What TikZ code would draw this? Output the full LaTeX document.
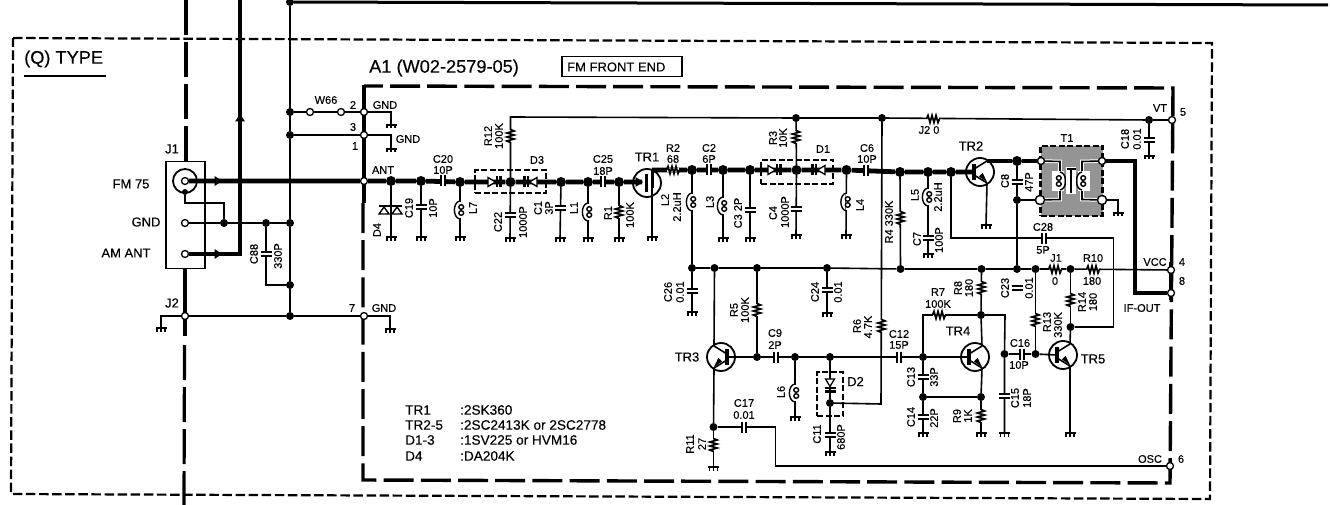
\documentclass[tikz,border=0pt]{standalone}
\usepackage{fontspec}
\setmainfont{Liberation Sans}[FakeBold=0.25]
\newcounter{lblc}
\tikzset{x=1pt,y=-1pt,
  w/.style={line width=1.6pt},
  wm/.style={line width=2.6pt},
  wt/.style={line width=4.8pt},
  jd/.style={circle,fill=black,inner sep=0pt,minimum size=8pt},
  jD/.style={circle,fill=black,inner sep=0pt,minimum size=10pt},
  jo/.style={circle,draw=black,fill=white,line width=1.3pt,inner sep=0pt,minimum size=7pt},
  dbox/.style={draw=black,line width=2pt,dash pattern=on 6pt off 2.5pt,inner sep=0pt},
  lab/.style={font=\fontsize{11}{12}\selectfont,inner sep=0pt},
  labm/.style={font=\fontsize{13}{14}\selectfont,inner sep=0pt},
  labl/.style={font=\fontsize{13.6}{15}\selectfont,inner sep=0pt,anchor=west},
  labb/.style={font=\fontsize{18.2}{20}\selectfont,inner sep=0pt,anchor=west},
  rlab/.style={lab,rotate=90},
  plt/.style={line width=2.2pt},
}
% named text helpers
\newcommand\T[4][lab]{\stepcounter{lblc}\node[#1] (t\arabic{lblc}) at (#2,#3) {#4};}
\newcommand\Tr[3]{\stepcounter{lblc}\node[rlab] (t\arabic{lblc}) at (#1,#2) {#3};}
% junction helpers
\newcommand\Jd[3]{\node[jd] (#1) at (#2,#3) {};}
\newcommand\JD[3]{\node[jD] (#1) at (#2,#3) {};}
\newcommand\Jo[3]{\node[jo] (#1) at (#2,#3) {};}
% components: name,x,y,rotation
\newcommand\Res[4]{\begin{scope}[shift={(#2,#3)},rotate=#4]
  \coordinate (#1) at (0,0);
  \fill[white] (-6,-2.4) rectangle (6,2.4);
  \draw[line width=1.7pt,line join=miter] (-6.5,0)--(-5,-3.6)--(-3,3.6)--(-1,-3.6)--(1,3.6)--(3,-3.6)--(5,3.6)--(6.5,0);
  \end{scope}}
\newcommand\Cp[4]{\begin{scope}[shift={(#2,#3)},rotate=#4]
  \coordinate (#1) at (0,0);
  \fill[white] (-1.8,-3) rectangle (1.8,3);
  \draw[plt] (-2,-5.5)--(-2,5.5) (2,-5.5)--(2,5.5);
  \end{scope}}
\newcommand\Ind[4]{\begin{scope}[shift={(#2,#3)},rotate=#4]
  \coordinate (#1) at (0,0);
  \fill[white] (-1,-8) rectangle (1,8);
  \draw[line width=1.4pt] (0,-9) .. controls (-7.5,-8) and (-7.5,8) .. (0,9);
  \draw[line width=1.4pt] (1.2,-3) ellipse (2.4 and 2.3) (1.2,3) ellipse (2.4 and 2.3);
  \end{scope}}
\newcommand\Dio[4]{\begin{scope}[shift={(#2,#3)},rotate=#4]
  \coordinate (#1) at (0,0);
  \draw[line width=1.3pt,fill=white,line join=miter] (-9,-4.5)--(-1.5,0)--(-9,4.5)--cycle;
  \draw[line width=2.4pt] (0,-5.5)--(0,5.5) (3.5,-5.5)--(3.5,5.5);
  \end{scope}}
\newcommand\Gnd[3]{\coordinate (#1) at (#2,#3);
  \begin{scope}[shift={(#2,#3)}]
  \draw[line width=1.6pt] (-5.5,0)--(5.5,0);
  \draw[line width=1.3pt] (-4,0)--(-4,3.5) (0,0)--(0,3.5) (4,0)--(4,3.5);
  \end{scope}}
% NPN: name,cx,cy,xscale
\newcommand\Npn[4]{\begin{scope}[shift={(#2,#3)},xscale=#4]
  \coordinate (#1-c) at (7,-11);
  \coordinate (#1-e) at (7,11);
  \coordinate (#1-b) at (-6,0);
  \draw[line width=1.8pt] (0,0) circle (14);
  \draw[line width=3.2pt] (-6,-8)--(-6,8);
  \draw[line width=1.6pt] (-6,-3)--(7,-11) (-6,3)--(7,11);
  \fill (7,10)--(-1,4.5)--(2.6,0.8)--cycle;
  \end{scope}}
\newcommand\Ar[4]{\begin{scope}[shift={(#2,#3)},rotate=#4]
  \coordinate (#1) at (0,0);
  \fill (-3.5,-5)--(4,0)--(-3.5,5)--cycle;
  \end{scope}}
\begin{document}
\begin{tikzpicture}
\useasboundingbox (0,0) rectangle (1330,505);

% ---------- frames
\draw[line width=2.2pt,dash pattern=on 9.5pt off 3.6pt] (13,38)--(1212,43)--(1210,499)--(11,494)--cycle;
\draw[line width=3.4pt,dash pattern=on 30pt off 7.2pt] (363,203)--(363,480)--(1170,483)--(1173,88)--(364,86);
\draw[line width=3.4pt] (364,85)--(364,203);
\draw[line width=3.4pt] (1171,262)--(1171,300);
\draw[line width=3.2pt,dash pattern=on 35pt off 7pt] (186,0)--(186,161);
\draw[line width=3.2pt,dash pattern=on 35pt off 7pt] (184.5,345)--(184,505);
\draw[line width=3.2pt] (185,269)--(185,336);
\draw[line width=1.1pt] (24,76)--(106,76);

% ---------- junctions
\Jd{top}{290}{2} \coordinate (topr) at (1328,5);
\Jd{w1}{290}{112} \Jd{w2}{290}{135} \Jd{g1}{290}{223} \Jd{g2}{224}{223} \Jd{g3}{266}{223}
\Jd{g4}{290}{285} \Jd{g5}{290}{316}
\Jo{w66a}{310}{112} \Jo{w66b}{341}{112} \Jo{p2}{364}{112} \Jo{p3}{364}{135} \Jo{pa}{364}{181}
\Jo{p7}{364}{316} \Jo{j2o}{185}{316} \Jo{agnd}{185}{223} \Jo{am}{185}{254}
\node[jd,minimum size=6pt] (fmb) at (185,192) {};
\Jo{fm}{185}{181}
\JD{n391}{391}{181} \JD{n421}{421}{181} \JD{n461}{460}{182} \JD{n510}{510.5}{182}
\JD{n561}{561}{182} \JD{n588}{588}{182} \JD{n619}{619}{182}
\JD{n692}{692}{170} \JD{n723}{723}{170} \JD{n750}{750}{170} \JD{n796}{796.5}{170} \JD{n846}{846.5}{170}
\JD{n900}{900}{172} \JD{n928}{928}{172} \JD{n951}{951}{172}
\JD{n1017}{1017}{161} \Jd{n1017b}{1017}{200}
\Jd{n796t}{796}{118} \Jd{n882}{882}{118} \Jd{n1149}{1149}{120} \Jo{pvt}{1172}{120}
\Jo{t1a}{1041}{161} \Jo{t1b}{1102}{161} \node[jo,minimum size=9pt] (t1c) at (1040,200) {}; \node[jo,minimum size=9pt] (t1d) at (1102,200) {};
\Jd{r692}{692}{268} \Jd{r714}{714.5}{268} \Jd{r757}{757}{268} \Jd{r827}{827}{268} \Jd{r900}{900.5}{269}
\Jd{r981}{981.5}{269} \Jd{r1017}{1017}{269} \Jd{r1036}{1035.5}{269} \Jd{r1071}{1070.5}{269}
\Jo{pvcc}{1171}{270} \Jo{pif}{1171}{293}
\Jd{n757}{757}{357} \Jd{n795}{795}{357} \Jd{n830}{830}{357} \Jd{n923}{923}{357} \Jd{n830b}{830}{403}
\Jd{n923c}{923}{397} \Jd{n981c}{981}{397} \Jd{n981b}{981}{315} \Jd{n1004}{1004.5}{354} \Jd{n1036}{1035.5}{354}
\Jd{n1071b}{1070.5}{327} \Jd{n713}{713.5}{427} \Jo{posc}{1170}{466}
\coordinate (c510) at (510.5,117);
\coordinate (r6b) at (881,404);
\coordinate (c28r) at (1113.5,238);
\coordinate (c28b) at (1113.5,327);
\coordinate (oscb) at (775.5,466);
\coordinate (osct) at (775.5,427);
\coordinate (fma) at (185,203);
\coordinate (fmc) at (224,203);
\coordinate (cc) at (266,285);
\coordinate (fetd) at (652,170);
\coordinate (fetg) at (642,182);
\coordinate (ifc) at (1135,161);
\coordinate (ifd) at (1135,293);
\coordinate (amc) at (240,254);
\coordinate (amt) at (240,0);
\coordinate (t1g) at (1118,200);
\coordinate (c98) at (1005,315);

% ---------- grounds
\Gnd{gp2}{391}{125} \Gnd{gp3}{391}{149} \Gnd{gj2}{161}{328} \Gnd{gp7}{390}{329}
\Gnd{gd4}{391}{237} \Gnd{gc19}{421}{237} \Gnd{gl7}{460}{237} \Gnd{gc22}{510}{238}
\Gnd{gc1}{560}{238} \Gnd{gl1}{588}{238} \Gnd{gr1}{619}{238} \Gnd{gtr1}{652}{237}
\Gnd{gl3}{723}{238} \Gnd{gc3}{750}{238} \Gnd{gc4}{796}{235} \Gnd{gl4}{846}{235}
\Gnd{gc7}{928}{254} \Gnd{gtr2}{986}{225} \Gnd{gt1}{1118}{213} \Gnd{gc18}{1149}{156}
\Gnd{gc26}{692}{312} \Gnd{gc24}{827}{313} \Gnd{gl6}{795}{417} \Gnd{gc11}{830}{452}
\Gnd{gr11}{713.5}{467} \Gnd{gc14}{923}{433} \Gnd{gr9}{981}{433} \Gnd{gc15}{1004.5}{433} \Gnd{gtr5}{1070}{433}

% ---------- J1 box
\node[draw=black,line width=1.8pt,minimum width=39pt,minimum height=107pt,inner sep=0pt] (j1box) at (185.5,215) {};
\draw[line width=1.8pt] (fm) circle (12);

% ---------- wires: left side
\draw[line width=3pt] (top)--(topr);
\draw[wm] (top)--(w1)--(w2)--(g1)--(g4)--(g5);
\draw[w] (w1)--(w66a)--(w66b)--(p2);
\draw[w] (p2)-|(gp2);
\draw[w] (w2)--(p3);
\draw[w] (p3)-|(gp3);
\draw[w] (j2o)--(g5)--(p7);
\draw[w] (j2o)-|(gj2);
\draw[w] (p7)-|(gp7);
\draw[wm] (fmb)--(fma)--(fmc)--(g2);
\draw[wm] (agnd)--(g2)--(g3)--(g1);
\draw[w] (g3)--(cc)--(g4);
\draw[line width=4.8pt] (am)--(amc)--(amt);
\draw[wt] (fm)--(pa)--(n391)--(n421)--(n461)--(n510)--(n561)--(n588)--(n619)--(fetg);
\draw[wt] (fetd)--(n692)--(n723)--(n750)--(n796)--(n846)--(n900)--(n928)--(n951)--(973,172);

% ---------- wires: front end
\draw[w] (n391)--(gd4);
\draw[w] (n421)--(gc19);
\draw[w] (n461)--(gl7);
\draw[w] (n510)--(gc22);
\draw[w] (n510)--(c510)--(n796t)--(n882)--(n1149)--(pvt);
\draw[w] (n561)--(gc1);
\draw[w] (n588)--(gl1);
\draw[w] (n619)--(gr1);
\draw[w] (fetd)--(gtr1);
\draw[w] (n692)--(r692)--(gc26);
\draw[w] (n723)--(gl3);
\draw[w] (n750)--(gc3);
\draw[w] (n796t)--(n796)--(gc4);
\draw[w] (n846)--(gl4);
\draw[w] (n900)--(r900);
\draw[w] (n928)--(gc7);
\draw[w] (n951)|-(c28r)--(c28b)--(n1071b);
\draw[w] (n882)--(r6b)--(n830b);
\draw[w] (n1149)--(gc18);

% ---------- VCC rail and below
\draw[w] (r692)--(r714)--(r757)--(r827)--(r900)--(r981)--(r1017)--(r1036)--(r1071)--(pvcc);
\draw[w] (r827)--(gc24);
\draw[w] (r757)--(n757);
\draw[w] (n757)--(n795)--(n830)--(n923);
\draw[w] (n795)--(gl6);
\draw[w] (n830)--(n830b)--(gc11);
\draw[w] (n923)--(n923c)--(gc14);
\draw[w] (n923c)--(n981c)--(gr9);
\draw[w] (n923)|-(n981b);
\draw[w] (n981b)--(c98)--(n1004)--(gc15);
\draw[w] (r981)--(n981b);
\draw[w] (r1017)--(n1017b);
\draw[w] (n1017b)--(n1017);
\draw[w] (n1017b)--(t1c);
\draw[w] (n1004)--(n1036);
\draw[w] (r1036)--(n1036);
\draw[w] (r1071)--(n1071b);
\draw[w] (n713)--(gr11);
\draw[w] (n713)--(osct)--(oscb)--(posc);
\draw[line width=1.6pt] (t1d)-|(t1g)--(gt1);

% ---------- T1
\node[draw=none,fill=black!42,minimum width=62pt,minimum height=70pt,inner sep=0pt] (t1box) at (1071.5,181) {};
\node[dbox,line width=2.4pt,minimum width=62pt,minimum height=70pt] (t1line) at (1071.5,181) {};
\draw[white,line width=3.6pt] (t1a)--(1060,161.5)--(1060,172) (1060,190)--(1060,199.5)--(t1c) (t1b)--(1082,161.5)--(1082,172) (1082,190)--(1082,199.5)--(t1d);
\draw[w] (t1a)--(1060,161.5)--(1060,172) (1060,190)--(1060,199.5)--(t1c);
\draw[w] (t1b)--(1082,161.5)--(1082,172) (1082,190)--(1082,199.5)--(t1d);
\fill[white] (1052,171) rectangle (1064,191);
\fill[white] (1078,171) rectangle (1090,191);
\Ind{t1p}{1060}{181}{180}
\Ind{t1s}{1082}{181}{0}
\fill[white] (1066,167) rectangle (1076,194);
\draw[line width=2pt] (1066.5,169)--(1075.5,169) (1071,169)--(1071,193);
\node[jo] (t1aa) at (1041,161) {}; \node[jo] (t1bb) at (1102,161) {};
\node[jo,minimum size=9pt] (t1cc) at (1040,200) {}; \node[jo,minimum size=9pt] (t1dd) at (1102,200) {};
\draw[wt] (n951)--(973,172);
\draw[line width=4.5pt] (t1b)--(ifc)--(ifd)--(pif);
\Npn{tr2}{980}{172}{1}
\Npn{tr3}{721}{357}{-1}
\Npn{tr4}{975}{357}{1}
\Npn{tr5}{1063}{355}{1}
\draw[wt] (tr2-c)--(n1017)--(t1a);
\draw[w] (tr2-e)--(gtr2);
\draw[w] (tr3-c)--(r714);
\draw[w] (tr3-e)--(n713);
\draw[w] (tr3-b)--(n757);
\draw[w] (tr4-b)--(n923);
\draw[w] (tr4-c)--(n981b);
\draw[w] (tr4-e)--(n981c);
\draw[w] (tr5-b)--(n1036);
\draw[w] (tr5-c)--(n1071b);
\draw[w] (tr5-e)--(gtr5);

% TR1 (FET)
\draw[line width=1.8pt] (647,183) circle (14);
\draw[line width=3pt] (646.5,174)--(646.5,192);
\draw[line width=3pt] (652,171)--(652,188);
\Ar{tr1a}{639}{182}{0}

% ---------- arrows on the left
\Ar{a1}{218}{181}{0}
\Ar{a2}{218}{254}{0}
\Ar{a3}{240}{118}{90}

% ---------- capacitors
\Cp{c88}{266}{254}{90}
\Cp{c19}{421}{207}{90}
\Cp{c20}{443}{181}{0}
\Cp{c22}{510.5}{215}{90}
\Cp{c1}{560}{208}{90}
\Cp{c25}{603}{182}{0}
\Cp{c2}{709}{170}{0}
\Cp{c3}{750}{210}{90}
\Cp{c4}{796}{209}{90}
\Cp{c6}{866}{171}{0}
\Cp{c7}{928}{238}{90}
\Cp{c8}{1017}{182}{90}
\Cp{c28}{1044}{238}{0}
\Cp{c18}{1149}{140}{90}
\Cp{c26}{692}{291}{90}
\Cp{c24}{827}{290}{90}
\Cp{c9}{776}{357}{0}
\Cp{c12}{899}{357}{0}
\Cp{c13}{923}{377}{90}
\Cp{c14}{923}{417}{90}
\Cp{c15}{1004.5}{396}{90}
\Cp{c16}{1022}{354}{0}
\Cp{c17}{744}{427}{0}
\Cp{c11}{830}{435}{90}
\Cp{c23}{1017}{288}{90}

% ---------- resistors
\Res{r12}{510.5}{136}{90}
\Res{r3}{796}{137}{90}
\Res{r1}{619}{212}{90}
\Res{r2}{673}{170}{0}
\Res{r4}{900.5}{218}{90}
\Res{j20}{933}{119}{0}
\Res{j1r}{1055}{269.5}{0}
\Res{r10}{1093}{269.5}{0}
\Res{r5}{757}{310}{90}
\Res{r6}{881.5}{326}{90}
\Res{r7}{939}{315}{0}
\Res{r8}{981.5}{288}{90}
\Res{r9}{981}{416}{90}
\Res{r11}{713.5}{445}{90}
\Res{r13}{1035.5}{320}{90}
\Res{r14}{1070.5}{300}{90}

% ---------- inductors
\Ind{l7}{460}{210}{0}
\Ind{l1}{588}{212}{0}
\Ind{l2}{692}{202}{0}
\Ind{l3}{723}{206}{0}
\Ind{l4}{846.5}{202}{0}
\Ind{l5}{928}{197}{0}
\Ind{l6}{795}{393}{0}

% ---------- diodes
\Dio{d3a}{497}{182}{0}
\Dio{d3b}{528}{182}{180}
\Dio{d1a}{777}{170}{0}
\Dio{d1b}{816}{170}{180}
\Dio{d2a}{830}{388}{-90}
\draw[line width=2.2pt] (379,206)--(402,206);
\draw[line width=1.4pt,fill=white] (384,207)--(379,214)--(389,214)--cycle (397,207)--(392,214)--(402,214)--cycle;

% ---------- dashed device boxes
\node[dbox,minimum width=71pt,minimum height=23pt] (d3box) at (510.5,182) {};
\node[dbox,minimum width=72pt,minimum height=24pt] (d1box) at (797,172) {};
\node[dbox,minimum width=26pt,minimum height=44pt] (d2box) at (830,394) {};

% ---------- labels
\T[labb]{24}{59}{(Q) TYPE}
\T[labb]{369}{68}{A1 (W02-2579-05)}
\node[draw=black,line width=1.3pt,minimum width=120pt,minimum height=20pt,inner sep=0pt] (fmfe) at (622,66.5) {};
\T[labm,anchor=west]{567}{67}{FM FRONT END}
\T[labm]{172}{149}{J1}
\T[labm]{172}{303}{J2}
\T[labm]{131}{184}{FM 75}
\T[labm]{146}{222}{GND}
\T[labm]{126}{253}{AM ANT}
\T{326}{100}{W66}
\T{353}{105}{2}
\T{353}{127}{3}
\T{355}{146}{1}
\T{385}{105}{GND}
\T{408}{139}{GND}
\T{383}{170}{ANT}
\T{352}{308}{7}
\T{384}{308}{GND}
\Tr{254}{254}{C88}
\Tr{278}{256}{330P}
\Tr{377}{230}{D4}
\Tr{409}{208}{C19}
\Tr{433}{208}{10P}
\T{443}{159}{C20}
\T{443}{170}{10P}
\Tr{473}{208}{L7}
\Tr{488}{136}{R12}
\Tr{499}{136}{100K}
\T{537}{160}{D3}
\Tr{498}{222}{C22}
\Tr{523}{222}{1000P}
\Tr{538}{208}{C1}
\Tr{549}{208}{3P}
\Tr{574}{208}{L1}
\T{603}{159}{C25}
\T{603}{171}{18P}
\Tr{608}{213}{R1}
\Tr{630}{215}{100K}
\T[labm]{647}{157}{TR1}
\T{673}{148}{R2}
\T{673}{159}{68}
\Tr{665}{200}{L2}
\Tr{677}{207}{2.2uH}
\T{709}{148}{C2}
\T{709}{159}{6P}
\Tr{710}{202}{L3}
\Tr{738}{213}{C3 2P}
\Tr{773}{138}{R3}
\Tr{783}{138}{10K}
\T{823}{149}{D1}
\Tr{773}{213}{C4}
\Tr{785}{212}{1000P}
\Tr{860}{205}{L4}
\T{867}{148}{C6}
\T{867}{159}{10P}
\Tr{889}{222}{R4 330K}
\Tr{915}{195}{L5}
\Tr{938}{197}{2.2uH}
\Tr{917}{239}{C7}
\Tr{939}{240}{100P}
\T{929}{130}{J2 0}
\T[labm]{971}{146}{TR2}
\Tr{1005}{181}{C8}
\Tr{1029}{182}{47P}
\T{1067}{138}{T1}
\T{1043}{227}{C28}
\T{1043}{250}{5P}
\T{1160}{108}{VT}
\T{1183}{112}{5}
\Tr{1125}{139}{C18}
\Tr{1137}{139}{0.01}
\T{1056}{258}{J1}
\T{1055}{281}{0}
\T{1093}{258}{R10}
\T{1092}{281}{180}
\T{1155}{262}{VCC}
\T{1182}{262}{4}
\T{1182}{281}{8}
\T{1142}{308}{IF-OUT}
\T{1150}{459}{OSC}
\T{1181}{459}{6}
\Tr{668}{292}{C26}
\Tr{680}{292}{0.01}
\Tr{734}{310}{R5}
\Tr{745}{310}{100K}
\Tr{815}{292}{C24}
\Tr{838}{292}{0.01}
\Tr{857}{326}{R6}
\Tr{868}{327}{4.7K}
\T[labm]{687}{357}{TR3}
\T{775}{333}{C9}
\T{775}{345}{2P}
\T{899}{334}{C12}
\T{899}{345}{15P}
\Tr{781}{392}{L6}
\T[labm]{855.5}{381.5}{D2}
\Tr{817}{434}{C11}
\Tr{841}{437}{680P}
\T{744}{403}{C17}
\T{744}{415}{0.01}
\Tr{690}{444}{R11}
\Tr{702}{444}{27}
\T{938}{292}{R7}
\T{938}{304}{100K}
\Tr{958}{288}{R8}
\Tr{969}{288}{180}
\T[labm]{958}{331}{TR4}
\Tr{911}{377}{C13}
\Tr{934}{377}{33P}
\Tr{911}{417}{C14}
\Tr{934}{418}{22P}
\Tr{957}{416}{R9}
\Tr{968}{416}{1K}
\Tr{1005}{288}{C23}
\Tr{1029}{288}{0.01}
\Tr{1015}{398}{C15}
\Tr{1027}{398}{18P}
\T{1020}{343}{C16}
\T{1019}{365}{10P}
\Tr{1047}{322}{R13}
\Tr{1058}{325}{330K}
\Tr{1082}{302}{R14}
\Tr{1093}{302}{180}
\T[labm]{1093}{359}{TR5}
\T[labl]{405}{410}{TR1}
\T[labl]{405}{425}{TR2-5}
\T[labl]{405}{440}{D1-3}
\T[labl]{405}{456}{D4}
\T[labl]{460}{410}{:2SK360}
\T[labl]{460}{425}{:2SC2413K or 2SC2778}
\T[labl]{460}{440}{:1SV225 or HVM16}
\T[labl]{460}{456}{:DA204K}
\end{tikzpicture}
\end{document}
